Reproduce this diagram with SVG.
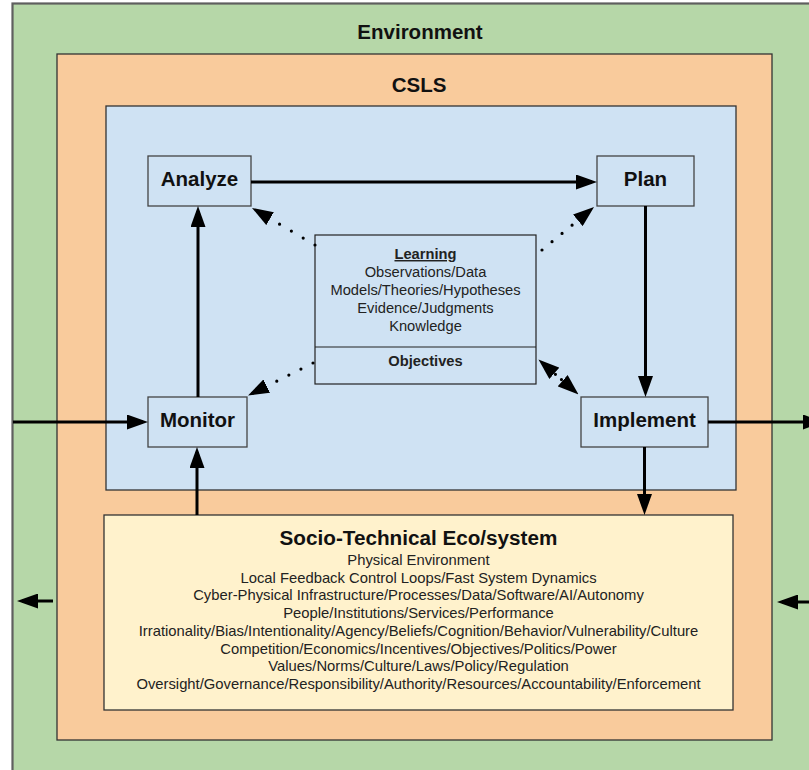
<svg xmlns="http://www.w3.org/2000/svg" width="809" height="770" viewBox="0 0 809 770">
<defs>
<style>
.box{stroke:#444;stroke-width:1.3}
.hd{font-family:"Liberation Sans",Arial,sans-serif;font-weight:bold;font-size:20.5px;fill:#111;text-anchor:middle}
.bd{font-family:"Liberation Sans",Arial,sans-serif;font-size:14.7px;fill:#222;text-anchor:middle}
.bb{font-family:"Liberation Sans",Arial,sans-serif;font-weight:bold;font-size:14.7px;fill:#222;text-anchor:middle}
.sb{font-family:"Liberation Sans",Arial,sans-serif;font-size:14.8px;fill:#222;text-anchor:middle}
.solid{stroke:#000;stroke-width:3;fill:none;marker-end:url(#ah)}
.dot{stroke:#000;stroke-width:3.2;fill:none;stroke-linecap:round;marker-end:url(#ah)}
</style>
<marker id="ah" markerUnits="userSpaceOnUse" markerWidth="21" markerHeight="15" refX="16" refY="7.5" orient="auto"><path d="M0,0 L21,7.5 L0,15 z" fill="#000"/></marker>
<marker id="ah2" markerUnits="userSpaceOnUse" markerWidth="21" markerHeight="15" refX="16" refY="7.5" orient="auto-start-reverse"><path d="M0,0 L21,7.5 L0,15 z" fill="#000"/></marker>
</defs>

<g id="environment">
<rect x="12.5" y="3.5" width="830" height="800" fill="#b6d7a8" stroke="#5f5f5f" stroke-width="2.2"/>
<text class="hd" x="420" y="38.5">Environment</text>
</g>

<g id="csls">
<rect x="57" y="54" width="715" height="686" fill="#f9cb9c" stroke="#333" stroke-width="1.3"/>
<text class="hd" x="419" y="92">CSLS</text>
</g>

<g id="control-loop">
<rect x="106" y="106" width="630" height="384" fill="#cfe2f3" stroke="#333" stroke-width="1.3"/>
</g>

<g id="analyze">
<rect class="box" x="148" y="156" width="103" height="50" fill="#cfe2f3"/>
<text class="hd" x="199.5" y="186">Analyze</text>
</g>

<g id="plan">
<rect class="box" x="597" y="156" width="97" height="50" fill="#cfe2f3"/>
<text class="hd" x="645.5" y="186">Plan</text>
</g>

<g id="monitor">
<rect class="box" x="148" y="397" width="99" height="50" fill="#cfe2f3"/>
<text class="hd" x="197.5" y="426.5">Monitor</text>
</g>

<g id="implement">
<rect class="box" x="581" y="397" width="127" height="50" fill="#cfe2f3"/>
<text class="hd" x="644.5" y="426.5">Implement</text>
</g>

<g id="learning">
<rect x="315" y="235" width="221" height="149" fill="#cfe2f3" stroke="#222" stroke-width="1.2"/>
<line x1="315" y1="347" x2="536" y2="347" stroke="#222" stroke-width="1.2"/>
<text class="bb" x="425.5" y="259" text-decoration="underline">Learning</text>
<text class="bd" x="425.5" y="277">Observations/Data</text>
<text class="bd" x="425.5" y="295">Models/Theories/Hypotheses</text>
<text class="bd" x="425.5" y="313">Evidence/Judgments</text>
<text class="bd" x="425.5" y="331">Knowledge</text>
<text class="bb" x="425.5" y="366">Objectives</text>
</g>

<g id="socio-technical">
<rect x="104" y="515" width="629" height="195" fill="#fff2cc" stroke="#333" stroke-width="1.3"/>
<text class="hd" x="418.5" y="545" style="font-size:20.7px">Socio-Technical Eco/system</text>
<text class="sb" x="418.5" y="565">Physical Environment</text>
<text class="sb" x="418.5" y="582.7">Local Feedback Control Loops/Fast System Dynamics</text>
<text class="sb" x="418.5" y="600.4">Cyber-Physical Infrastructure/Processes/Data/Software/AI/Autonomy</text>
<text class="sb" x="418.5" y="618.1">People/Institutions/Services/Performance</text>
<text class="sb" x="418.5" y="635.8">Irrationality/Bias/Intentionality/Agency/Beliefs/Cognition/Behavior/Vulnerability/Culture</text>
<text class="sb" x="418.5" y="653.5">Competition/Economics/Incentives/Objectives/Politics/Power</text>
<text class="sb" x="418.5" y="671.2">Values/Norms/Culture/Laws/Policy/Regulation</text>
<text class="sb" x="418.5" y="688.9">Oversight/Governance/Responsibility/Authority/Resources/Accountability/Enforcement</text>
</g>

<g id="connectors">
<line class="solid" x1="251" y1="182" x2="592" y2="182"/>
<line class="solid" x1="645.5" y1="206" x2="645.5" y2="392"/>
<line class="solid" x1="644.5" y1="447" x2="644.5" y2="510"/>
<line class="solid" x1="708" y1="422" x2="819" y2="422"/>
<line class="solid" x1="13" y1="422" x2="143" y2="422"/>
<line class="solid" x1="198" y1="397" x2="198" y2="211"/>
<line class="solid" x1="197" y1="515" x2="197" y2="452"/>
<line class="solid" x1="53" y1="601" x2="22" y2="601"/>
<line class="solid" x1="812" y1="602" x2="782" y2="602"/>
<line class="dot" x1="315" y1="245" x2="256.3" y2="210.5" stroke-dasharray="0 13.7"/>
<line class="dot" x1="542" y1="250" x2="590.2" y2="210.2" stroke-dasharray="0 13"/>
<line class="dot" x1="313" y1="363" x2="252.5" y2="393.3" stroke-dasharray="0 13.5"/>
<line x1="542.26" y1="362.79" x2="574.74" y2="391.21" stroke="#000" stroke-width="3.2" fill="none" stroke-linecap="round" stroke-dasharray="0 8" stroke-dashoffset="6.5" marker-start="url(#ah2)" marker-end="url(#ah2)"/>
</g>
</svg>
